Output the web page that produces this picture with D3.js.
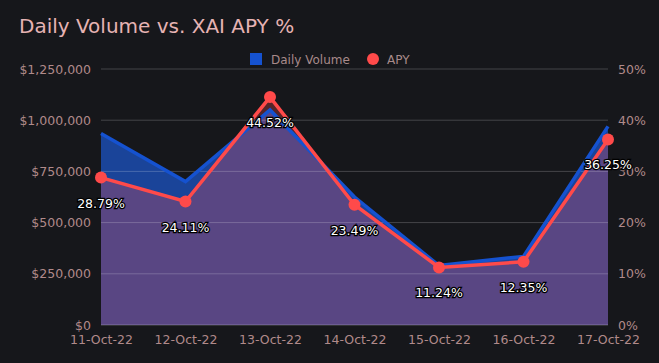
<!DOCTYPE html>
<html>
<head>
<meta charset="utf-8">
<script src="https://cdn.jsdelivr.net/npm/d3@7"></script>
<style>
  body { margin: 0; background: #16171b; }
  text { font-family: "DejaVu Sans", sans-serif; }
</style>
</head>
<body>
<div id="chart"></div>
<script>
// Chart data
const dates = ["11-Oct-22", "12-Oct-22", "13-Oct-22", "14-Oct-22", "15-Oct-22", "16-Oct-22", "17-Oct-22"];
const volume = [935000, 700000, 1050000, 625000, 290000, 335000, 970000];
const apy = [28.79, 24.11, 44.52, 23.49, 11.24, 12.35, 36.25];
const volumeTicks = [0, 250000, 500000, 750000, 1000000, 1250000];
const apyTicks = [0, 10, 20, 30, 40, 50];

const width = 659, height = 363;
const margin = { top: 69, right: 51, bottom: 38, left: 101 };

const svg = d3.select("#chart")
    .append("svg")
    .attr("width", width)
    .attr("height", height)
    .style("background", "#16171b");

const x = d3.scalePoint()
    .domain(dates)
    .range([margin.left, width - margin.right]);

const yVol = d3.scaleLinear()
    .domain([0, 1250000])
    .range([height - margin.bottom, margin.top]);

const yApy = d3.scaleLinear()
    .domain([0, 50])
    .range([height - margin.bottom, margin.top]);

// Title
svg.append("text")
    .attr("x", 19)
    .attr("y", 33)
    .attr("fill", "#e6b3b3")
    .style("font-size", "20px")
    .text("Daily Volume vs. XAI APY %");

// Legend
const legend = svg.append("g").style("font-size", "12px");
legend.append("rect")
    .attr("x", 250).attr("y", 53).attr("width", 12).attr("height", 12)
    .attr("fill", "#1552d0");
legend.append("text")
    .attr("x", 271).attr("y", 64)
    .attr("fill", "#a88a8a")
    .text("Daily Volume");
legend.append("circle")
    .attr("cx", 373).attr("cy", 59).attr("r", 6)
    .attr("fill", "#ff4a4a");
legend.append("text")
    .attr("x", 387).attr("y", 64)
    .attr("fill", "#a88a8a")
    .text("APY");

// Areas
const volArea = d3.area()
    .x((d, i) => x(dates[i]))
    .y0(yVol(0))
    .y1(d => yVol(d));

const apyArea = d3.area()
    .x((d, i) => x(dates[i]))
    .y0(yApy(0))
    .y1(d => yApy(d));

svg.append("path")
    .datum(volume)
    .attr("d", volArea)
    .attr("fill", "#1a4499");

svg.append("path")
    .datum(apy)
    .attr("d", apyArea)
    .attr("fill", "#ff4a4a")
    .attr("fill-opacity", 0.28);

// Gridlines on top, faint
svg.append("g")
    .selectAll("line")
    .data(volumeTicks)
    .enter()
    .append("line")
    .attr("x1", margin.left)
    .attr("x2", width - margin.right)
    .attr("y1", d => yVol(d))
    .attr("y2", d => yVol(d))
    .attr("stroke", "#ffffff")
    .attr("stroke-opacity", d => d === 0 ? 0.25 : 0.2)
    .attr("stroke-width", 1);

// Lines
const volLine = d3.line()
    .x((d, i) => x(dates[i]))
    .y(d => yVol(d));

const apyLine = d3.line()
    .x((d, i) => x(dates[i]))
    .y(d => yApy(d));

svg.append("path")
    .datum(volume)
    .attr("d", volLine)
    .attr("fill", "none")
    .attr("stroke", "#1552d0")
    .attr("stroke-width", 3.5);

svg.append("path")
    .datum(apy)
    .attr("d", apyLine)
    .attr("fill", "none")
    .attr("stroke", "#ff4a4a")
    .attr("stroke-width", 3.5);

svg.append("g")
    .selectAll("circle")
    .data(apy)
    .enter()
    .append("circle")
    .attr("cx", (d, i) => x(dates[i]))
    .attr("cy", d => yApy(d))
    .attr("r", 6)
    .attr("fill", "#ff4a4a");

// Axes
const leftAxis = svg.append("g")
    .attr("transform", `translate(${margin.left - 7},0)`)
    .call(d3.axisLeft(yVol).tickValues(volumeTicks).tickSize(0).tickFormat(d => "$" + d3.format(",")(d)));

const rightAxis = svg.append("g")
    .attr("transform", `translate(${width - margin.right + 7},0)`)
    .call(d3.axisRight(yApy).tickValues(apyTicks).tickSize(0).tickFormat(d => d + "%"));

const bottomAxis = svg.append("g")
    .attr("transform", `translate(0,${height - margin.bottom + 7})`)
    .call(d3.axisBottom(x).tickSize(0));

[leftAxis, rightAxis, bottomAxis].forEach(a => {
    a.select(".domain").remove();
    a.selectAll("text")
        .attr("fill", "#b08a8a")
        .style("font-size", "12.5px")
        .style("font-family", "'DejaVu Sans', sans-serif");
});
leftAxis.selectAll("text").attr("dx", 0);
rightAxis.selectAll("text").attr("dx", 0);

// Data labels
svg.append("g")
    .selectAll("text")
    .data(apy)
    .enter()
    .append("text")
    .attr("x", (d, i) => x(dates[i]))
    .attr("y", d => yApy(d) + 30)
    .attr("text-anchor", "middle")
    .attr("fill", "#ffffff")
    .attr("stroke", "#000000")
    .attr("stroke-width", 2.5)
    .attr("paint-order", "stroke")
    .style("font-size", "12.5px")
    .text(d => d3.format(".2f")(d) + "%");
</script>
</body>
</html>
